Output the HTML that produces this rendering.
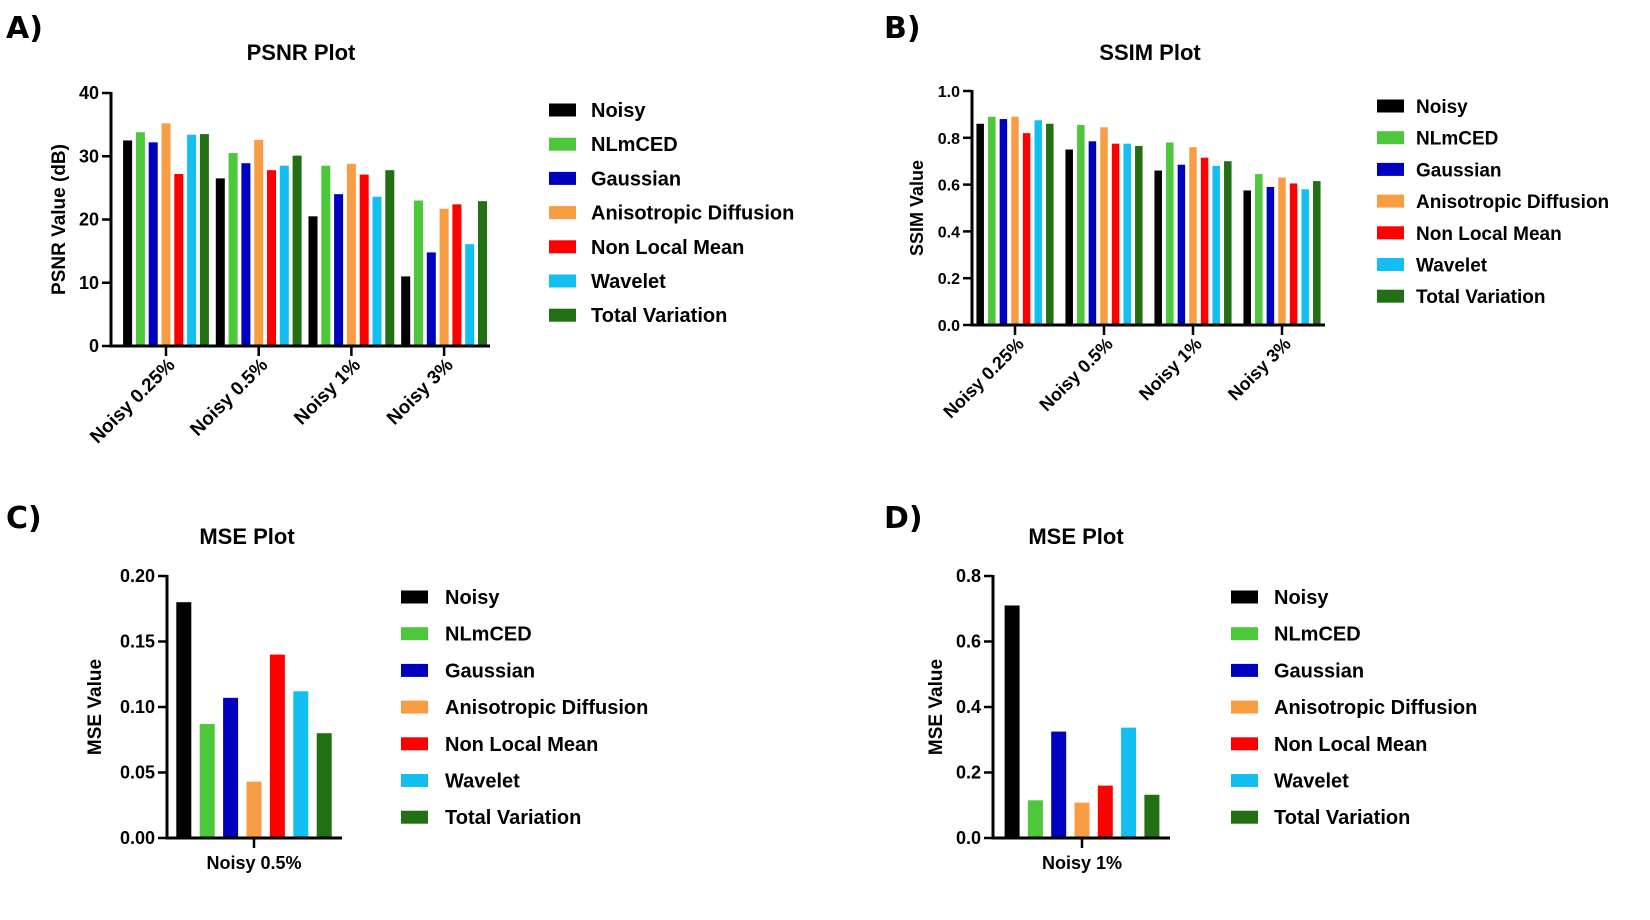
<!DOCTYPE html>
<html><head><meta charset="utf-8">
<style>
html,body{margin:0;padding:0;background:#fff;}
svg{display:block;font-family:"Liberation Sans",Arial,sans-serif;font-weight:bold;}
</style></head>
<body>
<svg id="fig" width="1650" height="920" viewBox="0 0 1650 920" xmlns="http://www.w3.org/2000/svg"></svg>
<script>
const seriesNames = ["Noisy","NLmCED","Gaussian","Anisotropic Diffusion","Non Local Mean","Wavelet","Total Variation"];
const seriesColors = ["#000000","#4cc83a","#0000bf","#f99d45","#ff0000","#12bff0","#226f14"];

const psnrCategories = ["Noisy 0.25%","Noisy 0.5%","Noisy 1%","Noisy 3%"];
const psnrNoisy = [32.5,26.5,20.5,11.0];
const psnrNLmCED = [33.8,30.5,28.5,23.0];
const psnrGaussian = [32.2,28.9,24.0,14.8];
const psnrAniso = [35.2,32.6,28.8,21.7];
const psnrNLM = [27.2,27.8,27.1,22.4];
const psnrWavelet = [33.4,28.5,23.6,16.1];
const psnrTV = [33.5,30.1,27.8,22.9];
const psnrTicks = [0,10,20,30,40];

const ssimCategories = ["Noisy 0.25%","Noisy 0.5%","Noisy 1%","Noisy 3%"];
const ssimNoisy = [0.86,0.75,0.66,0.575];
const ssimNLmCED = [0.89,0.855,0.78,0.645];
const ssimGaussian = [0.88,0.785,0.685,0.59];
const ssimAniso = [0.89,0.845,0.76,0.63];
const ssimNLM = [0.82,0.775,0.715,0.605];
const ssimWavelet = [0.875,0.775,0.68,0.58];
const ssimTV = [0.86,0.765,0.70,0.615];
const ssimTicks = ["0.0","0.2","0.4","0.6","0.8","1.0"];

const mseCCategories = ["Noisy 0.5%"];
const mseCValues = [0.18,0.087,0.107,0.043,0.14,0.112,0.08];
const mseCTicks = ["0.00","0.05","0.10","0.15","0.20"];

const mseDCategories = ["Noisy 1%"];
const mseDValues = [0.71,0.115,0.325,0.108,0.16,0.337,0.132];
const mseDTicks = ["0.0","0.2","0.4","0.6","0.8"];

const NS = "http://www.w3.org/2000/svg";
const svg = document.getElementById('fig');
function mk(tag, attrs, parent, text){
  const e = document.createElementNS(NS, tag);
  for (const k in attrs) e.setAttribute(k, attrs[k]);
  if (text !== undefined) e.textContent = text;
  (parent||svg).appendChild(e);
  return e;
}

function drawPanel(p){
  const g = mk('g', {});
  
  
  const yScale = v => p.y0 - (v - p.ymin)/(p.ymax - p.ymin)*(p.y0 - p.ytop);
  const L = mk('text', {x:p.letterX, y:p.letterY, 'font-size':30, 'font-family':'"DejaVu Sans",sans-serif','font-weight':'bold'}, g, p.letter);
  
  
  const T = mk('text', {x:p.titleX, y:p.titleY, 'font-size':22, 'text-anchor':'middle'}, g, p.title);
  
  
  const cy = (p.ytop + p.y0)/2;
  const YT = mk('text', {x:p.yTitleX, y:cy, 'font-size':p.yTitleSize, 'text-anchor':'middle', transform:`rotate(-90 ${p.yTitleX} ${cy})`}, g, p.yTitle);
  
  
  const nCat = p.categories.length;
  for (let c=0;c<nCat;c++){
    const center = p.catX(c);
    for (let s=0;s<p.series.length;s++){
      const v = p.series[s][c];
      const xc = center + (s-3)*p.barPitch;
      const y = yScale(v);
      const r = mk('rect', {x:xc-p.barW/2, y:y, width:p.barW, height:p.y0-y, fill:seriesColors[s]}, g);
      
      
    }
  }
  const ya = mk('line', {x1:p.ax, y1:p.ytop-1, x2:p.ax, y2:p.y0+1.5, stroke:'#000','stroke-width':3}, g);
  
  
  const xa = mk('line', {x1:p.ax-1.5, y1:p.y0, x2:p.axEnd, y2:p.y0, stroke:'#000','stroke-width':3}, g);
  
  
  for (let i=0;i<p.ticks.length;i++){
    const v = parseFloat(p.ticks[i]);
    const y = yScale(v);
    mk('line', {x1:p.ax-9, y1:y, x2:p.ax, y2:y, stroke:'#000','stroke-width':2.5}, g);
    const t = mk('text', {x:p.ax-12, y:y+6, 'font-size':p.tickSize, 'text-anchor':'end'}, g, p.ticks[i]);
    
    
  }
  for (let c=0;c<nCat;c++){
    const x = p.catX(c);
    mk('line', {x1:x, y1:p.y0, x2:x, y2:p.y0+10, stroke:'#000','stroke-width':2.5}, g);
    let t;
    if (p.rotate){
      const tx = x+10, ty = p.y0+20;
      t = mk('text', {x:tx, y:ty, 'font-size':p.catSize, 'text-anchor':'end', transform:`rotate(-45 ${tx} ${ty})`}, g, p.categories[c]);
    } else {
      t = mk('text', {x:x, y:p.y0+31, 'font-size':p.catSize, 'text-anchor':'middle'}, g, p.categories[c]);
    }
    
    
  }
  for (let s=0;s<seriesNames.length;s++){
    const y = p.legY + s*p.legPitch;
    const lg = mk('g', {}, g);
    
    
    mk('rect', {x:p.legX, y:y-6.5, width:27, height:13, fill:seriesColors[s]}, lg);
    mk('text', {x:p.legTextX, y:y+7, 'font-size':p.legSize}, lg, seriesNames[s]);
  }
}

drawPanel({name:'psnr-chart', letter:'A)', letterX:6, letterY:38, title:'PSNR Plot', titleX:301, titleY:60,
  yTitle:'PSNR Value (dB)', yTitleX:65, yTitleSize:19,
  categories:psnrCategories, series:[psnrNoisy,psnrNLmCED,psnrGaussian,psnrAniso,psnrNLM,psnrWavelet,psnrTV],
  ymin:0, ymax:40, ytop:93, y0:346, ax:111, axEnd:490, ticks:psnrTicks.map(String), tickSize:18,
  catX:c=>166+c*92.7, barPitch:12.8, barW:9, rotate:true, catSize:19,
  legX:549, legTextX:591, legY:110, legPitch:34.2, legSize:20});

drawPanel({name:'ssim-chart', letter:'B)', letterX:884, letterY:38, title:'SSIM Plot', titleX:1150, titleY:60,
  yTitle:'SSIM Value', yTitleX:923, yTitleSize:18,
  categories:ssimCategories, series:[ssimNoisy,ssimNLmCED,ssimGaussian,ssimAniso,ssimNLM,ssimWavelet,ssimTV],
  ymin:0, ymax:1, ytop:91, y0:325, ax:972, axEnd:1325, ticks:ssimTicks, tickSize:16,
  catX:c=>1015+c*89, barPitch:11.6, barW:7.5, rotate:true, catSize:18,
  legX:1377, legTextX:1416, legY:106, legPitch:31.7, legSize:19});

drawPanel({name:'mse-chart-c', letter:'C)', letterX:6, letterY:528, title:'MSE Plot', titleX:247, titleY:544,
  yTitle:'MSE Value', yTitleX:101, yTitleSize:19,
  categories:mseCCategories, series:mseCValues.map(v=>[v]),
  ymin:0, ymax:0.2, ytop:576, y0:838, ax:167, axEnd:342, ticks:mseCTicks, tickSize:18,
  catX:c=>254, barPitch:23.4, barW:15, rotate:false, catSize:18,
  legX:401, legTextX:445, legY:597, legPitch:36.7, legSize:20});

drawPanel({name:'mse-chart-d', letter:'D)', letterX:884, letterY:528, title:'MSE Plot', titleX:1076, titleY:544,
  yTitle:'MSE Value', yTitleX:942, yTitleSize:19,
  categories:mseDCategories, series:mseDValues.map(v=>[v]),
  ymin:0, ymax:0.8, ytop:576, y0:838, ax:993, axEnd:1170, ticks:mseDTicks, tickSize:18,
  catX:c=>1082, barPitch:23.3, barW:15, rotate:false, catSize:18,
  legX:1231, legTextX:1274, legY:597, legPitch:36.7, legSize:20});
</script>
</body></html>
